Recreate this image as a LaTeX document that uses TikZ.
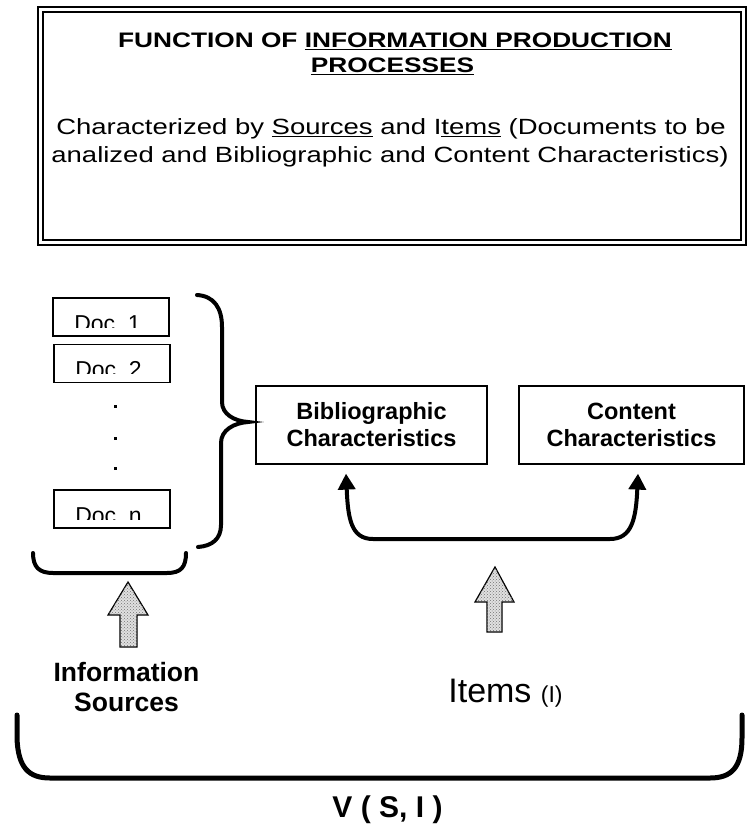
\documentclass[tikz,border=0pt]{standalone}
\usepackage{fontspec}
\setmainfont{Liberation Sans}
\newfontfamily\boxfont[FakeStretch=1.25]{Liberation Sans}
\usetikzlibrary{arrows.meta,patterns}
\tikzset{
  framebox/.style = {draw, double, line width=1.8pt, double distance=2.6pt,
                     minimum width=703pt, minimum height=233pt, inner sep=0pt},
  charbox/.style  = {draw, line width=1.2pt, align=center, inner sep=0pt,
                     minimum height=78pt,
                     font=\bfseries\fontsize{23.5}{27}\selectfont},
  docbox/.style   = {draw, line width=1.2pt, inner sep=0pt,
                     minimum width=116pt, minimum height=38pt,
                     path picture={
                       \clip ([yshift=9pt]path picture bounding box.south west)
                             rectangle (path picture bounding box.north east);
                       \node[anchor=base, inner sep=0pt,
                             font=\fontsize{23}{27}\selectfont]
                         at ([xshift=-3.5pt,yshift=5pt]path picture bounding box.south) {#1};
                     }},
  bracepath/.style  = {line width=#1, line cap=round},
  bracepath/.default = 4pt,
  shadearrow/.style = {draw, line width=1.2pt, line join=miter, fill=black!12,
                       postaction={pattern=crosshatch dots, pattern color=black!55}},
  curvearrow/.style = {line width=4pt,
                       {Triangle[length=16pt,width=17pt]}-{Triangle[length=16pt,width=17pt]}}
}

\begin{document}
\begin{tikzpicture}[x=1pt, y=-1pt]
	\useasboundingbox (0,0) rectangle (747,824);

	% Heading frame
	\node[framebox] (frame) at (392,126) {};
	\node[anchor=base, inner sep=0pt, font=\boxfont\bfseries\fontsize{21}{25}\selectfont]
		(title1) at (395,48) {FUNCTION OF \underline{INFORMATION PRODUCTION}};
	\node[anchor=base, inner sep=0pt, font=\boxfont\bfseries\fontsize{21}{25}\selectfont]
		(title2) at (392.5,73) {\underline{PROCESSES}};
	\node[anchor=base, inner sep=0pt, font=\boxfont\fontsize{22}{27}\selectfont]
		(body1) at (391,135) {Characterized by \underline{Sources} and I\underline{tems} (Documents to be};
	\node[anchor=base, inner sep=0pt, font=\boxfont\fontsize{22}{27}\selectfont]
		(body2) at (390,162) {analized and Bibliographic and Content Characteristics)};

	% Documents
	\node[docbox={Doc~ 1}] (doc1) at (111,317) {};
	\node[docbox={Doc~ 2}] (doc2) at (112,363.5) {};
	\node[docbox={Doc~ n}] (docn) at (112,509) {};
	\foreach \y in {406,438,468}
		\fill (113.5,\y-1.5) rectangle ++(3,3);

	% Braces
	\draw[bracepath] (197,295) .. controls (214,296) and (222,308) .. (222,327)
		-- (222,402) .. controls (222,414) and (234,421) .. (248,422)
		.. controls (234,423) and (221,430) .. (221,443)
		-- (221,525) .. controls (221,539) and (212,546) .. (198,547);
	\draw[bracepath] (33,553) .. controls (33,567) and (39,573) .. (53,573)
		-- (167,573) .. controls (181,573) and (186,567) .. (186,553);
	\draw[bracepath=5pt] (17,715) -- (17,738) .. controls (18,768) and (29,778) .. (50,778)
		-- (710,778) .. controls (731,778) and (742,768) .. (742,738) -- (742,715);

	% Characteristics
	\node[charbox, minimum width=231pt] (bib) at (371.5,425) {Bibliographic\\Characteristics};
	\node[charbox, minimum width=225pt] (content) at (631.5,425) {Content\\Characteristics};
	\coordinate (turnL) at (373,539);
	\coordinate (turnR) at (610,539);
	\draw[curvearrow] ([xshift=-25.5pt,yshift=-9pt]bib.south)
		.. controls +(2,45) and +(-22,0) .. (turnL) -- (turnR)
		.. controls +(22,0) and +(-2,45) .. ([xshift=6.5pt,yshift=-9pt]content.south);

	% Up arrows
	\draw[shadearrow] (128,582) -- (148,615) -- (137,615) -- (137,647)
		-- (120,647) -- (120,615) -- (108,615) -- cycle;
	\draw[shadearrow] (495,567) -- (514,602) -- (502,602) -- (502,632)
		-- (487,632) -- (487,602) -- (475,602) -- cycle;

	% Labels
	\node[align=center, inner sep=0pt, font=\bfseries\fontsize{26.5}{30}\selectfont]
		(sources) at (126.5,687.5) {Information\\Sources};
	\node[anchor=base, inner sep=0pt, font=\fontsize{34}{38}\selectfont]
		(items) at (505.5,702) {Items {\fontsize{23}{26}\selectfont(I)}};
	\node[anchor=base, inner sep=0pt, font=\bfseries\fontsize{30}{34}\selectfont]
		(vsi) at (387.5,817) {V ( S, I )};

\end{tikzpicture}
\end{document}
